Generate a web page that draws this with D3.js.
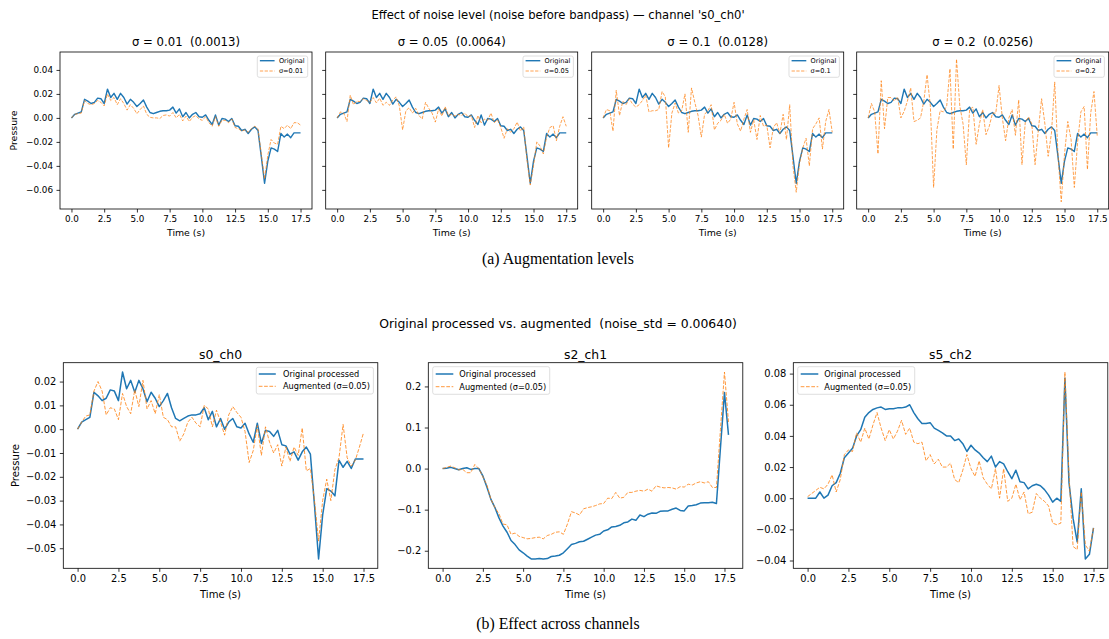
<!DOCTYPE html>
<html>
<head>
<meta charset="utf-8">
<script src="https://cdn.jsdelivr.net/npm/d3@7"></script>
<style>
  html, body { margin: 0; padding: 0; background: #fff; }
  svg { display: block; }
  text { font-family: "DejaVu Sans", sans-serif; fill: #000; white-space: pre; }
  .caption { font-family: "Liberation Serif", "Times New Roman", serif; }
</style>
</head>
<body>
<svg id="fig" width="1109" height="639"></svg>
<script>
// ---- sample grid (seconds) ----
const DT = 0.25;
const timeS0 = d3.range(71).map(i => i * DT);   // 0 .. 17.5
const timeS2 = d3.range(72).map(i => i * DT);   // 0 .. 17.75
const timeS5 = d3.range(71).map(i => i * DT);

// ---- channel s0_ch0 : processed signal ----
const s0Original = [
  0.000, 0.003, 0.004, 0.005, 0.0155, 0.014, 0.012, 0.013, 0.0165, 0.016,
  0.012, 0.024, 0.017, 0.0205, 0.0155, 0.0205, 0.017, 0.0115, 0.0155, 0.013,
  0.0095, 0.012, 0.015, 0.009, 0.0045, 0.0035, 0.0045, 0.0055, 0.006, 0.006,
  0.0065, 0.009, 0.004, 0.0075, 0.001, 0.0045, 0.000, 0.003, 0.0045, 0.001,
  0.0005, 0.0025, -0.002, -0.0055, 0.0025, -0.006, -0.0005, -0.001, -0.003, -0.0005,
  -0.0065, -0.007, -0.0105, -0.0095, -0.013, -0.0095, -0.0075, -0.0105, -0.032, -0.0545,
  -0.036, -0.025, -0.026, -0.028, -0.013, -0.016, -0.0135, -0.0165, -0.0125, -0.0125,
  -0.0125
];

// ---- s0_ch0 with noise added before bandpass, per noise level ----
const sigmaLevels = ["0.01", "0.05", "0.1", "0.2"];
const noiseStd    = ["0.0013", "0.0064", "0.0128", "0.0256"];

const s0Sigma001 = [
  0.000, 0.003, 0.0035, 0.004, 0.0145, 0.012, 0.011, 0.012, 0.0145, 0.013,
  0.010, 0.020, 0.0145, 0.017, 0.011, 0.016, 0.012, 0.0065, 0.011, 0.008,
  0.0035, 0.007, 0.010, 0.003, 0.0005, 0.000, 0.000, -0.0005, 0.002, 0.0025,
  0.0015, 0.0045, 0.000, 0.003, -0.0025, 0.0015, -0.003, 0.0005, 0.002, -0.001,
  -0.002, 0.001, -0.004, -0.007, 0.001, -0.007, -0.002, -0.002, -0.004, -0.001,
  -0.008, -0.009, -0.011, -0.010, -0.012, -0.009, -0.007, -0.009, -0.030, -0.051,
  -0.031, -0.018, -0.021, -0.022, -0.007, -0.009, -0.006, -0.009, -0.004, -0.004,
  -0.006
];
const s0Sigma005 = [
  0.000, 0.005, 0.004, -0.003, 0.019, 0.011, 0.014, 0.0135, 0.016, 0.0145,
  0.013, 0.017, 0.0125, 0.0165, 0.0105, 0.013, 0.0105, 0.015, 0.0175, 0.010,
  -0.010, 0.006, 0.0085, 0.004, 0.008, 0.002, -0.001, 0.013, 0.008, 0.004,
  -0.0035, 0.0075, 0.0015, 0.0095, 0.002, 0.003, 0.0015, 0.003, 0.002, 0.004,
  0.001, 0.002, -0.008, 0.002, -0.004, -0.001, -0.002, 0.004, -0.004, -0.0015,
  -0.008, -0.017, -0.009, -0.012, -0.009, -0.0035, -0.011, -0.0075, -0.035, -0.056,
  -0.040, -0.020, -0.0235, -0.030, -0.016, -0.008, -0.0065, -0.019, -0.007, 0.001,
  -0.007
];
const s0Sigma01 = [
  0.000, 0.007, 0.006, -0.011, 0.023, 0.002, 0.014, 0.011, 0.016, 0.0115,
  0.009, 0.011, 0.0145, 0.019, 0.005, 0.006, 0.006, 0.007, 0.022, 0.0175,
  -0.025, 0.004, 0.0125, 0.004, 0.006, 0.020, -0.012, 0.025, 0.013, 0.002,
  -0.016, 0.003, 0.006, 0.011, -0.010, -0.0045, -0.002, 0.003, -0.0045, -0.001,
  0.013, -0.005, -0.011, -0.001, 0.007, -0.012, -0.0015, -0.018, 0.002, -0.007,
  -0.006, -0.025, -0.008, -0.004, -0.013, 0.003, -0.018, 0.011, -0.040, -0.062,
  -0.038, -0.025, -0.017, -0.040, -0.009, -0.005, 0.000, -0.026, -0.003, 0.007,
  -0.012
];
const s0Sigma02 = [
  0.000, 0.012, 0.005, -0.030, 0.031, -0.009, 0.017, 0.017, 0.014, 0.0175,
  0.000, 0.0055, 0.014, 0.025, -0.003, -0.002, 0.000, 0.014, 0.036, 0.010,
  -0.058, -0.010, 0.006, 0.005, 0.010, 0.041, -0.026, 0.049, 0.010, -0.005,
  -0.039, 0.007, 0.009, -0.022, -0.005, 0.007, -0.014, -0.007, 0.004, 0.004,
  0.027, 0.000, -0.019, 0.000, 0.007, -0.0145, 0.015, -0.039, -0.004, 0.001,
  -0.005, -0.039, -0.010, 0.016, -0.005, -0.032, -0.013, 0.030, -0.030, -0.070,
  -0.030, -0.003, -0.018, -0.058, -0.020, 0.005, 0.0095, -0.043, 0.004, 0.022,
  -0.015
];
const s0Noisy = [s0Sigma001, s0Sigma005, s0Sigma01, s0Sigma02];

// ---- processed vs augmented (sigma = 0.05) for three channels ----
const channelNames = ["s0_ch0", "s2_ch1", "s5_ch2"];

const s0Augmented = [
  0.000, 0.003, 0.0055, 0.006, 0.016, 0.020, 0.016, 0.006, 0.009, 0.0085,
  0.004, 0.015, 0.0095, 0.0065, 0.0165, 0.0095, 0.0205, 0.0085, 0.012, 0.0065,
  0.0145, 0.005, 0.004, 0.001, 0.001, -0.005, -0.002, 0.003, 0.005, 0.0025,
  0.001, 0.010, 0.0085, 0.001, 0.008, 0.003, -0.0025, 0.006, 0.0095, 0.007,
  0.005, -0.001, -0.014, -0.009, 0.0015, -0.011, 0.001, -0.0055, -0.010, -0.0065,
  -0.0155, -0.0075, -0.0135, -0.0075, -0.011, 0.0005, -0.0175, -0.0165, -0.030, -0.047,
  -0.030, -0.021, -0.030, -0.017, -0.012, 0.002, -0.012, -0.0155, -0.013, -0.0075,
  -0.0015
];
const s2Original = [
  0.000, 0.001, 0.003, 0.000, -0.003, 0.000, 0.002, -0.002, 0.000, 0.000,
  -0.018, -0.045, -0.075, -0.095, -0.120, -0.140, -0.155, -0.175, -0.185, -0.198,
  -0.205, -0.213, -0.220, -0.220, -0.219, -0.220, -0.219, -0.214, -0.213, -0.211,
  -0.205, -0.195, -0.185, -0.182, -0.178, -0.177, -0.172, -0.167, -0.162, -0.160,
  -0.152, -0.149, -0.142, -0.141, -0.138, -0.132, -0.130, -0.123, -0.126, -0.113,
  -0.117, -0.111, -0.108, -0.109, -0.104, -0.103, -0.103, -0.099, -0.096, -0.102,
  -0.103, -0.091, -0.090, -0.088, -0.084, -0.083, -0.083, -0.082, -0.085, 0.050,
  0.185, 0.082
];
const s2Augmented = [
  0.000, 0.003, 0.006, 0.002, -0.003, -0.002, -0.010, -0.010, 0.010, 0.000,
  -0.020, -0.040, -0.075, -0.095, -0.110, -0.135, -0.137, -0.160, -0.157, -0.165,
  -0.168, -0.171, -0.170, -0.168, -0.167, -0.171, -0.163, -0.160, -0.155, -0.154,
  -0.160, -0.135, -0.105, -0.108, -0.113, -0.098, -0.095, -0.093, -0.090, -0.086,
  -0.085, -0.072, -0.073, -0.058, -0.072, -0.070, -0.058, -0.058, -0.055, -0.053,
  -0.055, -0.050, -0.055, -0.042, -0.045, -0.047, -0.046, -0.047, -0.050, -0.044,
  -0.045, -0.038, -0.040, -0.035, -0.032, -0.035, -0.032, -0.046, -0.046, 0.095,
  0.235, 0.113
];
const s5Original = [
  0.000, 0.000, 0.000, 0.004, 0.000, 0.002, 0.008, 0.010, 0.016, 0.026,
  0.029, 0.032, 0.040, 0.044, 0.052, 0.055, 0.057, 0.058, 0.0585, 0.057,
  0.0575, 0.0575, 0.058, 0.058, 0.0585, 0.060, 0.055, 0.051, 0.048, 0.048,
  0.0485, 0.045, 0.0435, 0.042, 0.040, 0.040, 0.037, 0.038, 0.035, 0.030,
  0.034, 0.031, 0.029, 0.026, 0.0235, 0.027, 0.020, 0.0235, 0.022, 0.017,
  0.0125, 0.018, 0.0105, 0.010, 0.006, 0.008, 0.009, 0.008, 0.0055, 0.002,
  -0.0025, 0.000, -0.002, 0.077, 0.010, -0.013, -0.028, 0.006, -0.039, -0.036,
  -0.019
];
const s5Augmented = [
  0.001, 0.003, 0.005, 0.007, 0.006, 0.009, 0.015, 0.004, 0.012, 0.028,
  0.031, 0.030, 0.042, 0.036, 0.045, 0.038, 0.047, 0.055, 0.045, 0.037,
  0.044, 0.038, 0.043, 0.050, 0.041, 0.045, 0.036, 0.035, 0.036, 0.024,
  0.028, 0.022, 0.025, 0.020, 0.020, 0.0225, 0.012, 0.010, 0.018, 0.028,
  0.019, 0.014, 0.024, 0.013, 0.009, 0.006, 0.019, 0.000, 0.019, -0.002,
  0.000, 0.009, -0.001, 0.004, -0.010, -0.009, 0.003, 0.000, -0.002, -0.005,
  -0.016, -0.017, -0.016, 0.081, 0.015, -0.031, -0.033, 0.004, -0.030, -0.034,
  -0.019
];

// ---- tick values ----
const timeTicks = [0, 2.5, 5, 7.5, 10, 12.5, 15, 17.5];
const topPressureTicks = [-0.06, -0.04, -0.02, 0, 0.02, 0.04];
const s0PressureTicks = [-0.05, -0.04, -0.03, -0.02, -0.01, 0, 0.01, 0.02];
const s2PressureTicks = [-0.2, -0.1, 0, 0.1, 0.2];
const s5PressureTicks = [-0.04, -0.02, 0, 0.02, 0.04, 0.06, 0.08];

// ---- drawing ----
const BLUE = "#1f77b4", ORANGE = "#ff7f0e";
const svg = d3.select("#fig");

// autoscale with 5% margin on each side
function padded(values) {
  const [lo, hi] = d3.extent(values);
  const m = (hi - lo) * 0.05;
  return [lo - m, hi + m];
}

let clipCount = 0;
function drawPanel(cfg) {
  const g = svg.append("g");
  const x = d3.scaleLinear().domain(cfg.xDomain).range([cfg.left, cfg.left + cfg.width]);
  const y = d3.scaleLinear().domain(cfg.yDomain).range([cfg.top + cfg.height, cfg.top]);

  const clipId = "plotclip" + (clipCount++);
  g.append("clipPath").attr("id", clipId).append("rect")
    .attr("x", cfg.left).attr("y", cfg.top).attr("width", cfg.width).attr("height", cfg.height);

  const line = d3.line().x(d => x(d[0])).y(d => y(d[1]));
  const plot = g.append("g").attr("clip-path", `url(#${clipId})`);
  cfg.series.forEach(s => {
    const pts = s.t.map((t, i) => [t, s.v[i]]);
    const p = plot.append("path").datum(pts).attr("d", line)
      .attr("fill", "none")
      .attr("stroke-linejoin", "round");
    if (s.kind === "orig") {
      p.attr("stroke", BLUE).attr("stroke-width", cfg.lwOrig);
    } else {
      p.attr("stroke", ORANGE).attr("stroke-width", cfg.lwAug)
        .attr("stroke-opacity", 0.8)
        .attr("stroke-dasharray", cfg.dash);
    }
  });

  // axes
  const xAxis = d3.axisBottom(x).tickValues(timeTicks).tickSize(3.5).tickPadding(3.5)
    .tickFormat(d3.format(".1f"));
  const gx = g.append("g").attr("transform", `translate(0,${cfg.top + cfg.height})`).call(xAxis);
  const yAxis = d3.axisLeft(y).tickValues(cfg.yTicks).tickSize(3.5).tickPadding(3.5)
    .tickFormat(cfg.showYLabels ? d3.format(cfg.yFmt) : () => "");
  const gy = g.append("g").attr("transform", `translate(${cfg.left},0)`).call(yAxis);
  [gx, gy].forEach(a => {
    a.select(".domain").remove();
    a.selectAll(".tick line").attr("stroke", "#000").attr("stroke-width", 0.8);
    a.selectAll(".tick text").attr("font-size", cfg.tickFont)
      .attr("font-family", "DejaVu Sans, sans-serif").attr("fill", "#000");
  });

  // frame
  g.append("rect").attr("x", cfg.left).attr("y", cfg.top)
    .attr("width", cfg.width).attr("height", cfg.height)
    .attr("fill", "none").attr("stroke", "#000").attr("stroke-width", 0.8);

  // title + labels
  g.append("text").attr("x", cfg.left + cfg.width / 2).attr("y", cfg.titleY)
    .attr("text-anchor", "middle").attr("font-size", cfg.titleFont).text(cfg.title);
  g.append("text").attr("x", cfg.left + cfg.width / 2).attr("y", cfg.xlabelY)
    .attr("text-anchor", "middle").attr("font-size", cfg.labelFont).text("Time (s)");
  if (cfg.ylabelX != null) {
    g.append("text")
      .attr("transform", `translate(${cfg.ylabelX},${cfg.top + cfg.height / 2}) rotate(-90)`)
      .attr("text-anchor", "middle").attr("font-size", cfg.labelFont).text("Pressure");
  }

  // legend
  const L = cfg.legend;
  const lg = g.append("g");
  const box = lg.append("rect").attr("rx", 2).attr("ry", 2)
    .attr("fill", "#fff").attr("fill-opacity", 0.8)
    .attr("stroke", "#d5d5d5").attr("stroke-width", 0.8);
  const texts = [];
  cfg.series.forEach((s, i) => {
    const ry = L.rowY[i];
    const ln = lg.append("line").attr("x1", L.sample[0]).attr("x2", L.sample[1])
      .attr("y1", ry).attr("y2", ry);
    if (s.kind === "orig") ln.attr("stroke", BLUE).attr("stroke-width", cfg.lwOrig);
    else ln.attr("stroke", ORANGE).attr("stroke-opacity", 0.8)
      .attr("stroke-width", cfg.lwAug).attr("stroke-dasharray", cfg.dash);
    texts.push(lg.append("text").attr("x", L.textX).attr("y", ry)
      .attr("dy", "0.35em").attr("font-size", L.fontSize).text(s.label));
  });
  const tw = d3.max(texts, t => t.node().getComputedTextLength());
  const bw = (L.textX - L.sample[0]) + L.padL + tw + L.padR;
  box.attr("x", L.sample[0] - L.padL).attr("y", 0).attr("width", bw).attr("height", L.height);
  const gx0 = L.anchor === "right"
    ? cfg.left + cfg.width - L.inset - bw - (L.sample[0] - L.padL)
    : cfg.left + L.inset;
  lg.attr("transform", `translate(${gx0},${cfg.top + L.insetTop})`);
}

// ---- figure titles ----
svg.append("text").attr("x", 558).attr("y", 18.5).attr("text-anchor", "middle")
  .attr("font-size", 11.6).text("Effect of noise level (noise before bandpass) \u2014 channel 's0_ch0'");
svg.append("text").attr("class", "caption").attr("x", 558).attr("y", 264).attr("text-anchor", "middle")
  .attr("font-size", 15.8).text("(a) Augmentation levels");
svg.append("text").attr("x", 558).attr("y", 328).attr("text-anchor", "middle")
  .attr("font-size", 12.4).text("Original processed vs. augmented  (noise_std = 0.00640)");
svg.append("text").attr("class", "caption").attr("x", 558).attr("y", 629).attr("text-anchor", "middle")
  .attr("font-size", 15.8).text("(b) Effect across channels");

// ---- (a) four noise levels, shared y ----
const topLefts = [60, 325.7, 591.7, 856.7];
const topY = padded(s0Original.concat(...s0Noisy));
const topX = padded(timeS0);
sigmaLevels.forEach((sig, i) => {
  drawPanel({
    left: topLefts[i], top: 52, width: 252, height: 157,
    xDomain: topX, yDomain: topY,
    yTicks: topPressureTicks, yFmt: ".2f", showYLabels: i === 0,
    tickFont: 8.8, labelFont: 9.4, titleFont: 11.7,
    title: `\u03c3 = ${sig}  (${noiseStd[i]})`, titleY: 46, xlabelY: 236,
    ylabelX: i === 0 ? 17 : null,
    lwOrig: 1.4, lwAug: 0.9, dash: "3.3,1.45",
    series: [
      { t: timeS0, v: s0Original, kind: "orig", label: "Original" },
      { t: timeS0, v: s0Noisy[i], kind: "aug", label: `\u03c3=${sig}` }
    ],
    legend: { anchor: "right", inset: 4.3, insetTop: 4, height: 21.3, fontSize: 6.6,
              sample: [2.6, 17.3], textX: 21.6, rowY: [4.7, 15], padL: 2.6, padR: 3 }
  });
});

// ---- (b) three channels ----
const botLefts = [63.3, 428.3, 793.3];
const bottomSets = [
  { t: timeS0, o: s0Original, a: s0Augmented, ticks: s0PressureTicks, fmt: ".2f", legend: "right" },
  { t: timeS2, o: s2Original, a: s2Augmented, ticks: s2PressureTicks, fmt: ".1f", legend: "left" },
  { t: timeS5, o: s5Original, a: s5Augmented, ticks: s5PressureTicks, fmt: ".2f", legend: "left" }
];
bottomSets.forEach((d, i) => {
  drawPanel({
    left: botLefts[i], top: 362.7, width: 314.5, height: 205.6,
    xDomain: padded(d.t), yDomain: padded(d.o.concat(d.a)),
    yTicks: d.ticks, yFmt: d.fmt, showYLabels: true,
    tickFont: 9.9, labelFont: 10.1, titleFont: 12.4,
    title: channelNames[i], titleY: 359, xlabelY: 597.5,
    ylabelX: i === 0 ? 19 : null,
    lwOrig: 1.5, lwAug: 1.0, dash: "3.7,1.6",
    series: [
      { t: d.t, v: d.o, kind: "orig", label: "Original processed" },
      { t: d.t, v: d.a, kind: "aug", label: "Augmented (\u03c3=0.05)" }
    ],
    legend: d.legend === "right"
      ? { anchor: "right", inset: 4.4, insetTop: 4.6, height: 26.7, fontSize: 8.2,
          sample: [2.5, 19.5], textX: 26.7, rowY: [6.7, 19], padL: 2.5, padR: 3.5 }
      : { anchor: "left", inset: 4.4, insetTop: 4, height: 27.6, fontSize: 8.2,
          sample: [3, 20.6], textX: 26.6, rowY: [7.3, 20], padL: 3, padR: 3.5 }
  });
});
</script>
</body>
</html>
